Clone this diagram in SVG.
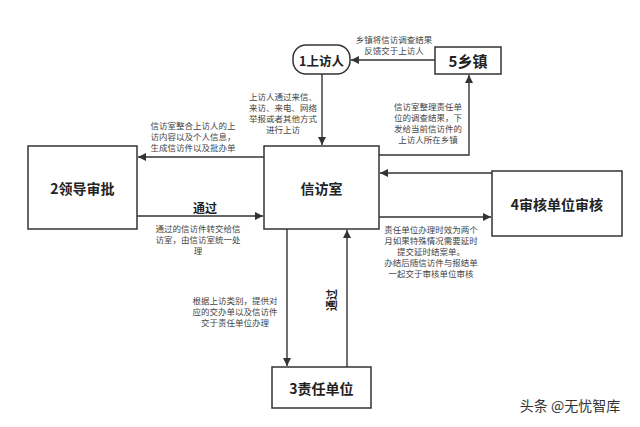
<svg xmlns="http://www.w3.org/2000/svg" width="640" height="427" viewBox="0 0 640 427">
<style>
.box{fill:#fff;stroke:#333;stroke-width:1.5}
.ln{fill:none;stroke:#333;stroke-width:1.4}
.nt{font-family:"Noto Sans CJK SC","Noto Sans",sans-serif;font-weight:bold;fill:#222;text-anchor:middle;dominant-baseline:central}
.lb{font-family:"Noto Sans CJK SC","Noto Sans",sans-serif;font-size:8.5px;fill:#444;text-anchor:middle}
</style>
<defs>
<marker id="ah" viewBox="0 0 10 10" refX="10" refY="5" markerWidth="8" markerHeight="8" markerUnits="userSpaceOnUse" orient="auto">
<path d="M0,0 L10,5 L0,10 z" fill="#333"/>
</marker>
</defs>
<rect width="640" height="427" fill="#fff"/>
<g id="connectors">
<path class="ln" d="M435,60 L351,60" marker-end="url(#ah)"/>
<path class="ln" d="M322,74 L322,145" marker-end="url(#ah)"/>
<path class="ln" d="M379,155 L469,155 L469,75" marker-end="url(#ah)"/>
<path class="ln" d="M264,157 L138,157" marker-end="url(#ah)"/>
<path class="ln" d="M137,216 L263,216" marker-end="url(#ah)"/>
<path class="ln" d="M492,173 L380,173" marker-end="url(#ah)"/>
<path class="ln" d="M379,217 L491,217" marker-end="url(#ah)"/>
<path class="ln" d="M287,229 L287,366" marker-end="url(#ah)"/>
<path class="ln" d="M347,367 L347,230" marker-end="url(#ah)"/>
<text class="lb"><tspan x="394" y="43">乡镇将信访调查结果</tspan><tspan x="394" y="54">反馈交于上访人</tspan></text>
<text class="lb"><tspan x="283" y="100">上访人通过来信、</tspan><tspan x="283" y="111">来访、来电、网络</tspan><tspan x="283" y="122">举报或者其他方式</tspan><tspan x="283" y="133">进行上访</tspan></text>
<text class="lb"><tspan x="428" y="110">信访室整理责任单</tspan><tspan x="428" y="121">位的调查结果，下</tspan><tspan x="428" y="132">发给当前信访件的</tspan><tspan x="428" y="143">上访人所在乡镇</tspan></text>
<text class="lb"><tspan x="193" y="129">信访室整合上访人的上</tspan><tspan x="193" y="140">访内容以及个人信息，</tspan><tspan x="193" y="151">生成信访件以及批办单</tspan></text>
<text class="nt" x="205" y="207" font-size="12">通过</text>
<text class="lb"><tspan x="198" y="232">通过的信访件转交给信</tspan><tspan x="198" y="243">访室，由信访室统一处</tspan><tspan x="198" y="254">理</tspan></text>
<text class="lb"><tspan x="431" y="233">责任单位办理时效为两个</tspan><tspan x="431" y="244">月如果特殊情况需要延时</tspan><tspan x="431" y="255">提交延时结案单。</tspan><tspan x="431" y="266">办结后随信访件与报结单</tspan><tspan x="431" y="277">一起交于审核单位审核</tspan></text>
<text class="lb"><tspan x="235" y="304">根据上访类别，提供对</tspan><tspan x="235" y="315">应的交办单以及信访件</tspan><tspan x="235" y="326">交于责任单位办理</tspan></text>
<text class="nt" x="0" y="0" font-size="11" transform="translate(331,300) rotate(-90)">通过</text>
</g>
<g id="n1"><rect class="box" x="293" y="45" width="57" height="29" rx="13"/><text class="nt" x="321.5" y="60" font-size="12.5">1上访人</text></g>
<g id="n5"><rect class="box" x="435" y="47" width="66" height="27"/><text class="nt" x="468" y="60.5" font-size="15">5乡镇</text></g>
<g id="n0"><rect class="box" x="264" y="146" width="115" height="83"/><text class="nt" x="321.5" y="187.5" font-size="14">信访室</text></g>
<g id="n2"><rect class="box" x="28" y="146" width="109" height="83"/><text class="nt" x="82.5" y="187.5" font-size="14">2领导审批</text></g>
<g id="n4"><rect class="box" x="492" y="171" width="130" height="65"/><text class="nt" x="557" y="203.5" font-size="14">4审核单位审核</text></g>
<g id="n3"><rect class="box" x="272" y="367" width="99" height="41"/><text class="nt" x="321.5" y="387.5" font-size="14">3责任单位</text></g>
<text x="570" y="411" font-family="Noto Sans CJK SC,sans-serif" font-size="14" fill="#333" text-anchor="middle">头条 @无忧智库</text>
</svg>
